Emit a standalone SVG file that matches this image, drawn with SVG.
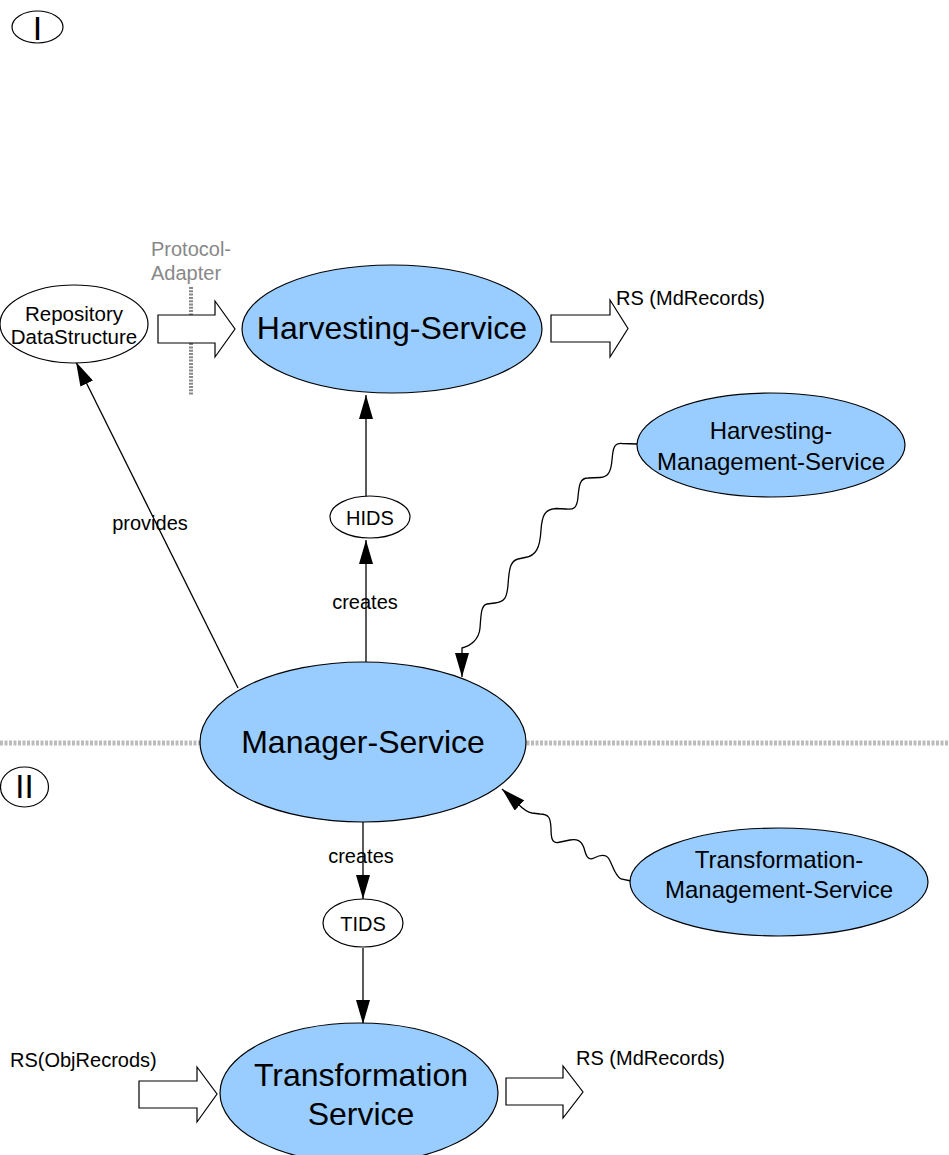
<svg xmlns="http://www.w3.org/2000/svg" width="949" height="1155" viewBox="0 0 949 1155">
  <style>
    text { font-family: "Liberation Sans", Arial, sans-serif; fill: #000; }
    .svc { fill: #99ccff; stroke: #000; stroke-width: 1.2; }
    .plain { fill: #fff; stroke: #000; stroke-width: 1.2; }
    .edge { fill: none; stroke: #000; stroke-width: 1.3; }
    .block { fill: #fff; stroke: #000; stroke-width: 1.2; }
    .big { font-size: 32px; }
    .mid { font-size: 24px; }
    .small { font-size: 20px; }
    .gray { fill: #888; }
  </style>
  <defs>
    <marker id="tri" viewBox="0 0 24 14" refX="24" refY="7" markerWidth="24" markerHeight="14" markerUnits="userSpaceOnUse" orient="auto">
      <path d="M0,0 L24,7 L0,14 z" fill="#000"/>
    </marker>
  </defs>

  <!-- section separators -->
  <g id="separators">
    <line x1="0" y1="743" x2="949" y2="743" stroke="#bbb" stroke-width="5" stroke-dasharray="3,1.5"/>
    <line x1="191" y1="287" x2="191" y2="395" stroke="#888" stroke-width="4" stroke-dasharray="2,1.3"/>
  </g>

  <!-- section markers -->
  <g id="section-1">
    <ellipse class="plain" cx="37.5" cy="27" rx="25.5" ry="16"/>
    <text x="37.5" y="40" font-size="34" text-anchor="middle">I</text>
  </g>
  <g id="section-2">
    <ellipse class="plain" cx="24.5" cy="787" rx="24" ry="20"/>
    <text x="24.5" y="798" font-size="33" text-anchor="middle">II</text>
  </g>

  <!-- connectors -->
  <g id="connectors">
    <line class="edge" x1="238" y1="688" x2="76" y2="362" marker-end="url(#tri)"/>
    <line class="edge" x1="366" y1="662" x2="366" y2="540" marker-end="url(#tri)"/>
    <line class="edge" x1="366" y1="497" x2="366" y2="395" marker-end="url(#tri)"/>
    <line class="edge" x1="363" y1="822" x2="363" y2="899" marker-end="url(#tri)"/>
    <line class="edge" x1="363" y1="948" x2="363" y2="1024" marker-end="url(#tri)"/>
    <!-- wavy management links -->
    <path class="edge" marker-end="url(#tri)" d="M637,444 L622,443.5 C614,443 613,448 612,460 C611,472 608,477 600,477.5 L588,478 C580,478 579,485 578,497 C577,508 574,510 566,509 L556,508.5 C545,509 542,515 541,530 C540,548 536,556 525,557.5 L518,559 C510,561 509,570 508,585 C507,597 505,602 495,603 L487,604 C481,605 481,615 480,628 C479,640 470,646 462,648 L462,677"/>
    <path class="edge" marker-end="url(#tri)" d="M631,881 L621,879 C615,876 613,866 609,859 C606,854 600,855 594,858 C588,861 586,856 584,848 C581,840 577,839 570,840 L558,842.5 C552,843 551,838 551,828 C550.5,818 549,814 540,814 L532,813 C526,812 522,808 518,804 L502,789"/>
    <text class="small" x="150" y="530" text-anchor="middle">provides</text>
    <text class="small" x="365" y="609" text-anchor="middle">creates</text>
    <text class="small" x="361" y="863" text-anchor="middle">creates</text>
  </g>

  <!-- record flows -->
  <g id="flows">
    <polygon class="block" points="158,315 215,315 215,301 235,329 215,357 215,343 158,343"/>
    <polygon class="block" points="551,315 610,315 610,300 628,328.5 610,357 610,342 551,342"/>
    <polygon class="block" points="139,1081 197,1081 197,1067 217,1094 197,1122 197,1108 139,1108"/>
    <polygon class="block" points="506,1078 563,1078 563,1066 583,1092 563,1118 563,1105 506,1105"/>
    <text class="small gray" x="151" y="256">Protocol-</text>
    <text class="small gray" x="151" y="280">Adapter</text>
    <text class="small" x="616" y="305">RS (MdRecords)</text>
    <text class="small" x="10" y="1067">RS(ObjRecrods)</text>
    <text class="small" x="576" y="1065">RS (MdRecords)</text>
  </g>

  <!-- nodes -->
  <g id="repository">
    <ellipse class="plain" cx="74" cy="324" rx="74" ry="39"/>
    <text x="74" y="321" font-size="20.5" text-anchor="middle">Repository</text>
    <text x="74" y="344" font-size="20.5" text-anchor="middle">DataStructure</text>
  </g>
  <g id="harvesting-service">
    <ellipse class="svc" cx="392" cy="329" rx="150" ry="64"/>
    <text class="big" x="392" y="339" text-anchor="middle">Harvesting-Service</text>
  </g>
  <g id="harvesting-management-service">
    <ellipse class="svc" cx="771" cy="445" rx="134" ry="52"/>
    <text class="mid" x="771" y="439" text-anchor="middle">Harvesting-</text>
    <text class="mid" x="771" y="470" text-anchor="middle">Management-Service</text>
  </g>
  <g id="hids">
    <ellipse class="plain" cx="370" cy="517" rx="40" ry="21"/>
    <text class="small" x="370" y="525" text-anchor="middle">HIDS</text>
  </g>
  <g id="manager-service">
    <ellipse class="svc" cx="363" cy="742" rx="163" ry="80"/>
    <text class="big" x="363" y="753" text-anchor="middle">Manager-Service</text>
  </g>
  <g id="transformation-management-service">
    <ellipse class="svc" cx="779" cy="882" rx="149" ry="54"/>
    <text class="mid" x="779" y="868" text-anchor="middle">Transformation-</text>
    <text class="mid" x="779" y="898" text-anchor="middle">Management-Service</text>
  </g>
  <g id="tids">
    <ellipse class="plain" cx="363" cy="923" rx="40" ry="24"/>
    <text class="small" x="363" y="931" text-anchor="middle">TIDS</text>
  </g>
  <g id="transformation-service">
    <ellipse class="svc" cx="359" cy="1093" rx="139" ry="70"/>
    <text class="big" x="361" y="1086" text-anchor="middle">Transformation</text>
    <text class="big" x="361" y="1125" text-anchor="middle">Service</text>
  </g>
</svg>
